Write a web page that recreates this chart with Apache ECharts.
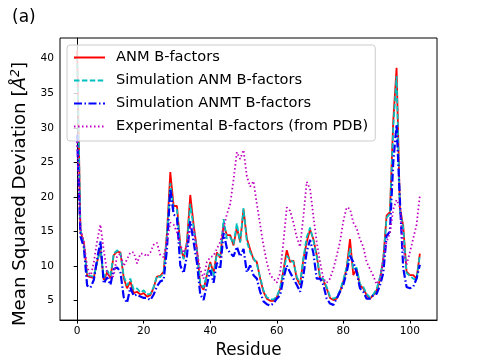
<!DOCTYPE html>
<html>
<head>
<meta charset="utf-8">
<script src="https://cdn.jsdelivr.net/npm/echarts@6/dist/echarts.min.js"></script>
<style>
html, body { margin: 0; padding: 0; background: #fff; }
#msd-chart { width: 485px; height: 364px; }
</style>
</head>
<body>
<div id="msd-chart"></div>
<script>
// values, one entry per residue 0..103
var anm = [41.2, 15.0, 13.5, 8.6, 8.4, 8.3, 10.6, 12.5, 8.0, 9.1,
  8.3, 11.6, 12.1, 12.0, 8.3, 6.8, 7.8, 6.1, 6.3, 5.9,
  6.1, 5.6, 5.8, 6.9, 8.5, 8.6, 9.2, 14.8, 23.6, 18.7,
  18.7, 13.0, 11.1, 13.5, 20.3, 16.0, 12.5, 7.3, 6.6, 8.7,
  10.6, 9.0, 12.0, 11.2, 16.0, 14.5, 14.5, 13.0, 15.6, 13.5,
  18.2, 14.0, 12.4, 11.0, 10.6, 8.2, 6.3, 5.3, 5.0, 5.0,
  5.5, 6.7, 9.4, 12.3, 10.6, 10.8, 8.2, 7.3, 11.0, 13.5,
  15.3, 13.9, 11.6, 8.2, 8.0, 6.8, 5.4, 5.1, 5.3, 6.3,
  7.8, 9.7, 13.9, 8.7, 9.6, 7.2, 6.8, 5.8, 5.3, 5.8,
  6.5, 8.0, 11.0, 17.3, 17.8, 31.0, 38.7, 18.5, 15.8, 9.2,
  8.7, 8.7, 8.2, 11.8];
var simAnm = [40.5, 15.3, 13.2, 8.8, 8.6, 8.5, 10.5, 12.6, 8.3, 9.4,
  8.6, 11.8, 12.3, 11.9, 8.6, 7.2, 8.2, 6.6, 6.8, 6.2,
  6.5, 5.9, 6.0, 7.0, 8.6, 8.4, 9.0, 14.5, 22.0, 18.3,
  18.2, 12.8, 11.0, 13.2, 19.0, 15.6, 12.2, 7.5, 6.9, 8.8,
  10.3, 8.5, 11.8, 11.5, 16.8, 14.0, 14.2, 13.2, 16.2, 13.4,
  18.4, 13.6, 12.0, 11.2, 10.3, 8.4, 6.5, 5.5, 5.2, 5.2,
  5.6, 6.8, 9.2, 11.5, 10.9, 10.6, 8.5, 7.5, 11.2, 14.2,
  15.6, 13.7, 11.4, 8.5, 8.1, 7.0, 5.6, 5.3, 5.5, 6.5,
  8.0, 9.9, 12.6, 9.5, 9.8, 7.4, 7.0, 6.0, 5.5, 5.9,
  6.7, 8.4, 10.8, 17.0, 17.6, 30.0, 37.5, 18.0, 15.5, 9.0,
  8.6, 8.2, 8.0, 11.6];
var simAnmt = [29.0, 14.3, 12.8, 7.2, 6.9, 8.0, 11.0, 13.6, 7.5, 8.4,
  7.3, 9.6, 9.8, 9.2, 5.5, 4.7, 6.9, 5.7, 5.9, 5.6,
  5.4, 5.4, 5.1, 5.9, 7.1, 7.8, 8.0, 12.5, 21.2, 17.5,
  17.0, 10.1, 9.0, 11.5, 16.5, 13.5, 10.5, 5.9, 5.1, 7.3,
  9.4, 7.6, 10.5, 9.6, 14.8, 12.6, 11.9, 11.4, 12.8, 11.4,
  12.5, 9.1, 10.1, 8.7, 8.2, 6.3, 4.9, 4.5, 4.3, 4.6,
  5.3, 5.8, 8.2, 10.1, 9.1, 8.2, 7.3, 6.3, 8.7, 12.1,
  13.8, 11.9, 8.2, 8.2, 7.3, 5.3, 4.6, 4.4, 5.3, 6.3,
  7.3, 9.1, 11.5, 10.6, 9.1, 6.8, 6.3, 5.3, 5.3, 5.8,
  6.0, 7.2, 9.0, 14.4, 15.0, 25.0, 30.5, 19.5, 9.7, 7.0,
  6.8, 7.0, 8.2, 10.2];
var experimental = [28.0, 15.5, 13.5, 10.0, 8.4, 10.5, 13.6, 16.0, 12.3, 9.1,
  8.2, 8.6, 11.5, 11.8, 10.0, 11.0, 12.0, 12.0, 10.4, 11.8,
  11.8, 11.4, 12.0, 13.1, 13.4, 11.6, 11.3, 13.6, 16.3, 16.0,
  14.9, 13.1, 11.9, 13.0, 15.5, 15.6, 12.0, 9.5, 8.2, 10.6,
  11.3, 11.5, 12.5, 13.5, 15.5, 17.5, 19.0, 22.5, 26.5, 25.5,
  26.8, 23.0, 21.5, 22.3, 19.0, 16.0, 13.0, 10.6, 8.7, 8.2,
  7.6, 9.0, 13.5, 18.5, 18.0, 16.3, 14.2, 12.8, 17.2, 22.2,
  21.2, 17.2, 13.5, 10.6, 8.2, 7.6, 8.2, 9.6, 11.5, 13.5,
  16.5, 18.5, 18.3, 16.3, 15.5, 13.9, 12.8, 10.6, 9.6, 8.6,
  7.4, 8.2, 11.0, 13.5, 14.8, 18.2, 19.6, 18.5, 12.5, 10.2,
  12.0, 14.0, 16.0, 20.2];
var seriesNames = ['ANM B-factors', 'Simulation ANM B-factors', 'Simulation ANMT B-factors', 'Experimental B-factors (from PDB)'];
var xTicks = [0, 20, 40, 60, 80, 100];
var yTicks = [5, 10, 15, 20, 25, 30, 35, 40];

function pairs(vals) {
  var out = [];
  for (var i = 0; i < vals.length; i++) {
    out.push([i, vals[i]]);
  }
  return out;
}

function msdChart() {
  var chart = echarts.init(document.getElementById('msd-chart'), null, {renderer: 'canvas'});
  var option = {
    animation: false,
    textStyle: {fontFamily: 'DejaVu Sans', color: '#000'},
    title: {
      text: '(a)',
      left: 7,
      top: 4,
      textStyle: {fontSize: 17, fontWeight: 'normal', color: '#000', fontFamily: 'DejaVu Sans'}
    },
    grid: {
      left: 60,
      right: 48,
      top: 38,
      bottom: 42,
      show: true,
      borderColor: '#000',
      borderWidth: 1,
      backgroundColor: 'transparent'
    },
    legend: {
      orient: 'vertical',
      left: 67,
      top: 45,
      padding: [5, 7, 7, 6],
      itemWidth: 31,
      itemHeight: 14,
      itemGap: 8,
      backgroundColor: 'rgba(255,255,255,0.8)',
      borderColor: '#cccccc',
      borderWidth: 1,
      borderRadius: 3,
      itemStyle: {opacity: 0},
      textStyle: {fontSize: 14.6, color: '#000', fontFamily: 'DejaVu Sans', padding: [0, 0, 0, 6]},
      data: seriesNames
    },
    xAxis: {
      type: 'value',
      min: -5.15,
      max: 108.15,
      name: 'Residue',
      nameLocation: 'middle',
      nameGap: 21,
      nameTextStyle: {fontSize: 16.8, color: '#000'},
      axisLine: {show: true, lineStyle: {color: '#000', width: 1}},
      axisTick: {show: true, inside: false, length: 3.5, customValues: xTicks, lineStyle: {color: '#000'}},
      axisLabel: {customValues: xTicks, fontSize: 10.6, color: '#000', margin: 6},
      splitLine: {show: false}
    },
    yAxis: {
      type: 'value',
      min: 2.2,
      max: 43,
      name: 'Mean Squared Deviation [{i|Å}{s|2}]',
      nameLocation: 'middle',
      nameGap: 27,
      nameTextStyle: {
        fontSize: 18.2,
        color: '#000',
        padding: [0, 30, 0, 0],
        rich: {
          i: {fontSize: 18.2, fontStyle: 'italic', color: '#000'},
          s: {fontSize: 12.5, fontStyle: 'italic', color: '#000', verticalAlign: 'top', padding: [0, 0, 9, 0]}
        }
      },
      axisLine: {show: true, lineStyle: {color: '#000', width: 1}},
      axisTick: {show: true, inside: false, length: 3.5, customValues: yTicks, lineStyle: {color: '#000'}},
      axisLabel: {customValues: yTicks, fontSize: 10.6, color: '#000', margin: 6},
      splitLine: {show: false}
    },
    series: [
      {
        name: seriesNames[0],
        type: 'line',
        symbol: 'none',
        lineStyle: {color: '#ff0000', width: 1.8, type: 'solid'},
        itemStyle: {color: '#ff0000'},
        data: pairs(anm)
      },
      {
        name: seriesNames[1],
        type: 'line',
        symbol: 'none',
        lineStyle: {color: '#00bfbf', width: 1.8, type: [5.5, 2.4]},
        itemStyle: {color: '#00bfbf'},
        data: pairs(simAnm)
      },
      {
        name: seriesNames[2],
        type: 'line',
        symbol: 'none',
        lineStyle: {color: '#0000ff', width: 2.2, type: [8, 2.5, 1.5, 2.5]},
        itemStyle: {color: '#0000ff'},
        data: pairs(simAnmt)
      },
      {
        name: seriesNames[3],
        type: 'line',
        symbol: 'none',
        lineStyle: {color: '#bf00bf', width: 1.8, type: [1.5, 2.5]},
        itemStyle: {color: '#bf00bf'},
        data: pairs(experimental)
      }
    ]
  };
  chart.setOption(option);
}

msdChart();
</script>
</body>
</html>
